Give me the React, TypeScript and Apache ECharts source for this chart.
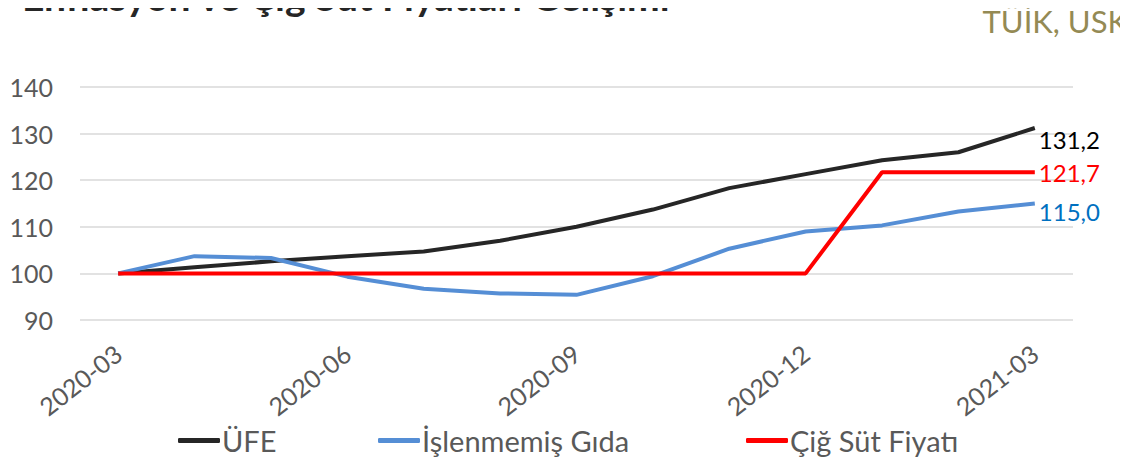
import React, { useEffect, useRef } from "react";
import * as echarts from "echarts";

const categories = ["2020-03","2020-04","2020-05","2020-06","2020-07","2020-08","2020-09","2020-10","2020-11","2020-12","2021-01","2021-02","2021-03"];
const ufe = [100, 101.3, 102.6, 103.7, 104.7, 107.0, 110.0, 113.7, 118.3, 121.3, 124.3, 126.0, 131.2];
const gida = [100, 103.7, 103.3, 99.3, 96.7, 95.7, 95.4, 99.4, 105.3, 109.0, 110.3, 113.3, 115.0];
const sut = [100, 100, 100, 100, 100, 100, 100, 100, 100, 100, 121.7, 121.7, 121.7];
const seriesNames = ["ÜFE", "İşlenmemiş Gıda", "Çiğ Süt Fiyatı"];
const FONT = "Lato, 'Open Sans', sans-serif";

export default function App() {
  const ref = useRef<HTMLDivElement>(null);
  useEffect(() => {
    const chart = echarts.init(ref.current!, null, { renderer: "svg" });
    const mk = (name: string, data: number[], color: string, labelColor: string, offY: number) => ({
      name,
      type: "line",
      data,
      symbol: "none",
      lineStyle: { color, width: 4 },
      itemStyle: { color },
      endLabel: {
        show: true,
        distance: 4,
        offset: [0, offY],
        color: labelColor,
        fontSize: 24,
        fontFamily: FONT,
        formatter: (p: any) => Number(p.value).toFixed(1).replace(".", ","),
      },
      z: name === "Çiğ Süt Fiyatı" ? 3 : 2,
    });
    const legendBase = {
      orient: "horizontal",
      top: 421,
      icon: "roundRect",
      itemWidth: 42,
      itemHeight: 5,
      itemGap: 2,
      textStyle: { fontSize: 29, color: "#595959", fontFamily: FONT, padding: [0, 0, 0, -3] },
    };
    chart.setOption({
      animation: false,
      backgroundColor: "#ffffff",
      grid: { left: 80, right: 55, top: 87, bottom: 146, containLabel: false },
      xAxis: {
        type: "category",
        data: categories,
        boundaryGap: true,
        axisLine: { show: false },
        axisTick: { show: false },
        axisLabel: { interval: 2, rotate: 38, fontSize: 25, color: "#595959", fontFamily: FONT, margin: 30 },
      },
      yAxis: {
        type: "value",
        min: 90,
        max: 140,
        interval: 10,
        axisLine: { show: false },
        axisTick: { show: false },
        axisLabel: { fontSize: 25, color: "#595959", fontFamily: FONT, margin: 27 },
        splitLine: { lineStyle: { color: "#d9d9d9", width: 1.5 } },
      },
      legend: [
        { ...legendBase, left: 173, data: [seriesNames[0]] },
        { ...legendBase, left: 373, data: [seriesNames[1]] },
        { ...legendBase, left: 741, data: [seriesNames[2]] },
      ],
      graphic: [
        {
          type: "text",
          left: 22,
          top: -24,
          style: { text: "Enflasyon ve Çiğ Süt Fiyatları Gelişimi", font: `bold 39px ${FONT}`, fill: "#262626" },
        },
        {
          type: "text",
          right: 0,
          top: 5,
          style: { text: "TÜİK, USK", font: `31px ${FONT}`, fill: "#948A54" },
        },
      ],
      series: [
        mk(seriesNames[0], ufe, "#262626", "#000000", 11),
        mk(seriesNames[1], gida, "#558ED5", "#0070C0", 8),
        mk(seriesNames[2], sut, "#FF0000", "#FF0000", 0),
      ],
    });
    return () => chart.dispose();
  }, []);
  return <div ref={ref} style={{ width: 1128, height: 466, margin: -8 }} />;
}
